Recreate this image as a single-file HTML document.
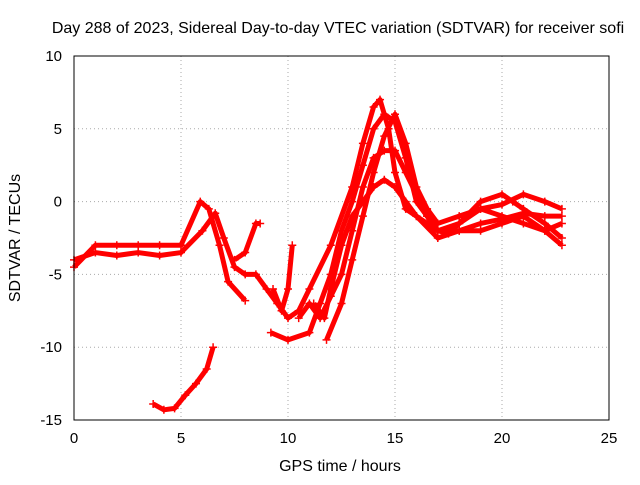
<!DOCTYPE html>
<html><head><meta charset="utf-8"><style>
body{margin:0;background:#fff}
svg text{font-family:"Liberation Sans",sans-serif;font-size:15px;fill:#000}
</style></head><body>
<svg id="chart" width="640" height="480">
<rect width="640" height="480" fill="#fff"/>
<text x="338" y="33" text-anchor="middle" style="font-size:16px">Day 288 of 2023, Sidereal Day-to-day VTEC variation (SDTVAR) for receiver sofi</text>
<text x="340" y="471" text-anchor="middle" style="font-size:16px">GPS time / hours</text>
<text transform="translate(20,238) rotate(-90)" text-anchor="middle" style="font-size:16px">SDTVAR / TECUs</text>
<g id="grid"></g><g id="series"></g>
<rect x="74" y="56" width="535" height="364" fill="none" stroke="#000"/>
</svg>
<script>
const xTicks=[0,5,10,15,20,25];
const yTicks=[10,5,0,-5,-10,-15];
const sA=[[0,-4.5],[1,-3],[2,-3],[3,-3],[4,-3],[5,-3],[5.9,0],[6.3,-0.5],[6.8,-3],[7.2,-5.5],[8,-6.8]];
const sB=[[0,-4],[1,-3.5],[2,-3.7],[3,-3.5],[4,-3.7],[5,-3.5],[6,-2],[6.6,-0.8],[7,-2.5],[7.5,-4.5],[8,-5],[8.5,-5],[9,-6],[9.5,-7],[10,-8],[10.5,-7.5],[11,-6],[12,-3],[13,1],[13.5,4],[14,6.5],[14.3,7],[14.7,5],[15,2],[15.5,-0.5],[16,-1],[17,-2],[18,-2],[19,-2],[20,-1.5],[21,-1],[22,-2],[22.8,-3]];
const sC=[[7.5,-4],[8,-3.5],[8.5,-1.5],[8.7,-1.5]];
const sD=[[9.3,-6],[9.7,-7.5],[10,-6],[10.2,-3]];
const sE=[[9.2,-9],[10,-9.5],[11,-9],[11.5,-7],[12,-5],[12.5,-2],[13,0],[13.5,2.5],[14,5],[14.5,6],[15,5.5],[15.5,3],[16,0],[16.5,-1],[17,-2],[18,-1.5],[19,-0.5],[20,-0.2],[21,0.5],[22,0],[22.8,-0.5]];
const sF=[[11.2,-7],[11.7,-8],[12,-6],[12.5,-3],[13,-1],[13.5,0],[14,1],[14.5,1.5],[15,1],[15.5,0],[16,-1],[17,-2.5],[18,-2],[19,-1.5],[20,-1.2],[21,-0.8],[22,-1],[22.8,-1]];
const sG=[[11.8,-9.5],[12.5,-7],[13,-4],[13.5,-1],[14,2],[14.5,4.5],[15,6],[15.5,4],[16,1],[16.5,-0.5],[17,-1.5],[18,-1],[19,-0.5],[20,-1],[21,-1.5],[22,-2],[22.8,-1.5]];
const sH=[[10.5,-8],[11,-7],[11.5,-8],[12,-6.5],[12.5,-5],[13,-2],[13.5,1],[14,3],[14.5,3.5],[15,3.5],[15.5,2],[16,0.5],[16.5,-1],[17,-2],[17.5,-2.2],[18,-1.5],[19,0],[20,0.5],[20.5,0],[21,-0.5],[22,-1.5],[22.8,-2.5]];
const sI=[[3.7,-13.9],[4.2,-14.3],[4.7,-14.2],[5.2,-13.3],[5.7,-12.5],[6.2,-11.5],[6.5,-10]];
const allSeries=[sA,sB,sC,sD,sE,sF,sG,sH,sI];
const X=v=>74+v/25*535, Y=v=>56+(10-v)/25*364;
const NS="http://www.w3.org/2000/svg";
const grid=document.getElementById('grid'), ser=document.getElementById('series');
function mk(t,a,p){const e=document.createElementNS(NS,t);for(const k in a)e.setAttribute(k,a[k]);p.appendChild(e);return e;}
xTicks.forEach(t=>{
 const l=mk('line',{x1:X(t),x2:X(t),y1:56,y2:420,stroke:'#aaa','stroke-dasharray':'1,3'},grid);
 
 
 const tx=mk('text',{x:X(t),y:443,'text-anchor':'middle'},grid);tx.textContent=t;
 
 
});
yTicks.forEach(t=>{
 const l=mk('line',{x1:74,x2:609,y1:Y(t),y2:Y(t),stroke:'#aaa','stroke-dasharray':'1,3'},grid);
 
 
 const tx=mk('text',{x:62,y:Y(t)+5,'text-anchor':'end'},grid);tx.textContent=t;
 
 
});
allSeries.forEach((s,i)=>{
 const p=mk('polyline',{points:s.map(d=>X(d[0])+','+Y(d[1])).join(' '),fill:'none',stroke:'#f00','stroke-width':5,'stroke-linejoin':'round'},ser);
 
 
 s.forEach(d=>{
  const m=mk('path',{d:`M${X(d[0])-4},${Y(d[1])}h8M${X(d[0])},${Y(d[1])-4}v8`,stroke:'#f00','stroke-width':1.5},ser);
  
  
 });
});
</script>
</body></html>
